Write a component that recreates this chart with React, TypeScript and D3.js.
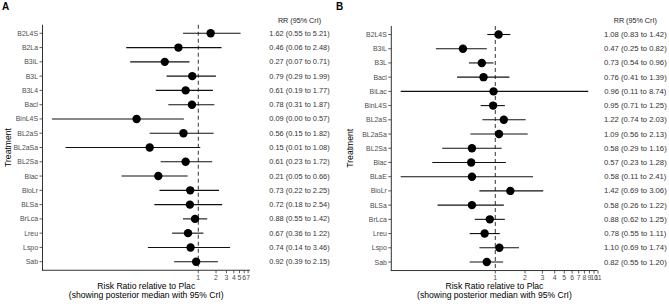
import React from "react";
import * as d3 from "d3";

// ---------- Data ----------
const treatmentsA = ["B2L4S","B2La","B3iL","B3L","B3L4","Bacl","BinL4S","BL2aS","BL2aSa","BL2Sa","Blac","BloLr","BLSa","BrLca","Lreu","Lspo","Sab"];
const medianA = [1.62,0.46,0.27,0.79,0.61,0.78,0.09,0.56,0.15,0.61,0.21,0.73,0.72,0.88,0.67,0.74,0.92];
const lowerA  = [0.55,0.06,0.07,0.29,0.19,0.31,0.0033,0.15,0.0056,0.23,0.05,0.22,0.18,0.55,0.36,0.14,0.39];
const upperA  = [5.21,2.48,0.71,1.99,1.77,1.87,0.57,1.82,1.08,1.72,0.66,2.25,2.54,1.42,1.22,3.46,2.15];
const ticksA = [1,2,3,4,5,6,7];

const treatmentsB = ["B2L4S","B3iL","B3L","Bacl","BiLac","BinL4S","BL2aS","BL2aSa","BL2Sa","Blac","BLaE","BloLr","BLSa","BrLca","Lreu","Lspo","Sab"];
const medianB = [1.08,0.47,0.73,0.76,0.96,0.95,1.22,1.09,0.58,0.57,0.58,1.42,0.58,0.88,0.78,1.10,0.82];
const lowerB  = [0.83,0.25,0.54,0.41,0.11,0.71,0.74,0.56,0.29,0.23,0.11,0.69,0.26,0.62,0.55,0.69,0.55];
const upperB  = [1.42,0.82,0.96,1.39,8.74,1.25,2.03,2.13,1.16,1.28,2.41,3.06,1.22,1.25,1.11,1.74,1.20];
const ticksB = [1,2,3,4,5,6,7,8,9,10,11];

const xTitle1 = "Risk Ratio relative to Plac";
const xTitle2 = "(showing posterior median with 95% CrI)";
const yTitle = "Treatment";
const colHeader = "RR (95% CrI)";

const FONT = "'Liberation Sans', Arial, Helvetica, sans-serif";

type PanelProps = {
  letter: string;
  ox: number;
  treatments: string[];
  median: number[];
  lower: number[];
  upper: number[];
  ticks: number[];
  left: number; right: number;
  rowTop: number; rowBottom: number;
  colX: number;
  colFont: number;
  yTitleX: number;
};

function Panel(p: PanelProps) {
  const logs = [...p.lower, ...p.upper].map(Math.log10);
  const lo = d3.min(logs)!, hi = d3.max(logs)!;
  const pad = (hi - lo) * 0.05;
  const x = d3.scaleLog().domain([Math.pow(10, lo - pad), Math.pow(10, hi + pad)]).range([p.left, p.right]);
  const y = d3.scalePoint<string>().domain(p.treatments).range([p.rowTop, p.rowBottom]);
  const step = y.step();
  const top = p.rowTop - 0.6 * step;
  const bottom = p.rowBottom + 0.6 * step;
  const cx = (p.left + p.right) / 2;
  const fmt = d3.format(".2f");
  return (
    <g transform={`translate(${p.ox},0)`} fontFamily={FONT}>
      <text x={2} y={10} fontSize={10} fontWeight="bold" fill="#000">{p.letter}</text>
      <line x1={x(1)} x2={x(1)} y1={top} y2={bottom} stroke="#333" strokeWidth={1} strokeDasharray="4,3" />
      {p.treatments.map((t, i) => (
        <g key={t}>
          <line x1={x(p.lower[i])} x2={x(p.upper[i])} y1={y(t)!} y2={y(t)!} stroke="#111" strokeWidth={1.1} />
          <circle cx={x(p.median[i])} cy={y(t)!} r={4.2} fill="#000" />
        </g>
      ))}
      <line x1={p.left} x2={p.left} y1={top} y2={bottom + 0.5} stroke="#333" strokeWidth={1} />
      {p.treatments.map((t) => (
        <g key={"yt" + t}>
          <line x1={p.left - 3} x2={p.left} y1={y(t)!} y2={y(t)!} stroke="#333" strokeWidth={0.8} />
          <text x={p.left - 4.5} y={y(t)!} fontSize={6.9} fill="#4d4d4d" textAnchor="end" dominantBaseline="central">{t}</text>
        </g>
      ))}
      <line x1={p.left - 0.5} x2={p.right} y1={bottom} y2={bottom} stroke="#333" strokeWidth={1} />
      {p.ticks.map((v) => (
        <g key={"xt" + v}>
          <line x1={x(v)} x2={x(v)} y1={bottom} y2={bottom + 3} stroke="#333" strokeWidth={0.8} />
          <text x={x(v)} y={bottom + 9.5} fontSize={6.9} fill="#4d4d4d" textAnchor="middle">{v}</text>
        </g>
      ))}
      <text x={cx} y={288.5} fontSize={8.6} fill="#000" textAnchor="middle">{xTitle1}</text>
      <text x={cx} y={298} fontSize={8.6} fill="#000" textAnchor="middle">{xTitle2}</text>
      <text transform={`translate(${p.yTitleX},${(top + bottom) / 2}) rotate(-90)`} fontSize={8.6} fill="#000" textAnchor="middle" dominantBaseline="central">{yTitle}</text>
      <text x={p.colX} y={20} fontSize={7.2} fill="#222" textAnchor="middle" dominantBaseline="central">{colHeader}</text>
      {p.treatments.map((t, i) => (
        <text key={"rr" + t} x={p.colX} y={y(t)!} fontSize={p.colFont} fill="#333" textAnchor="middle" dominantBaseline="central">
          {`${fmt(p.median[i])} (${fmt(p.lower[i])} to ${fmt(p.upper[i])})`}
        </text>
      ))}
    </g>
  );
}

export default function App() {
  return (
    <svg width={669} height={304} style={{ position: "absolute", left: 0, top: 0, background: "#fff" }}>
      <rect width={669} height={304} fill="#fff" />
      <Panel letter="A" ox={0} treatments={treatmentsA} median={medianA} lower={lowerA} upper={upperA} ticks={ticksA}
        left={42.5} right={250} rowTop={33.3} rowBottom={261.7} colX={299.5} colFont={7.4} yTitleX={8} />
      <Panel letter="B" ox={334} treatments={treatmentsB} median={medianB} lower={lowerB} upper={upperB} ticks={ticksB}
        left={57.3} right={263.6} rowTop={34.5} rowBottom={262} colX={301.3} colFont={7.7} yTitleX={16} />
    </svg>
  );
}
